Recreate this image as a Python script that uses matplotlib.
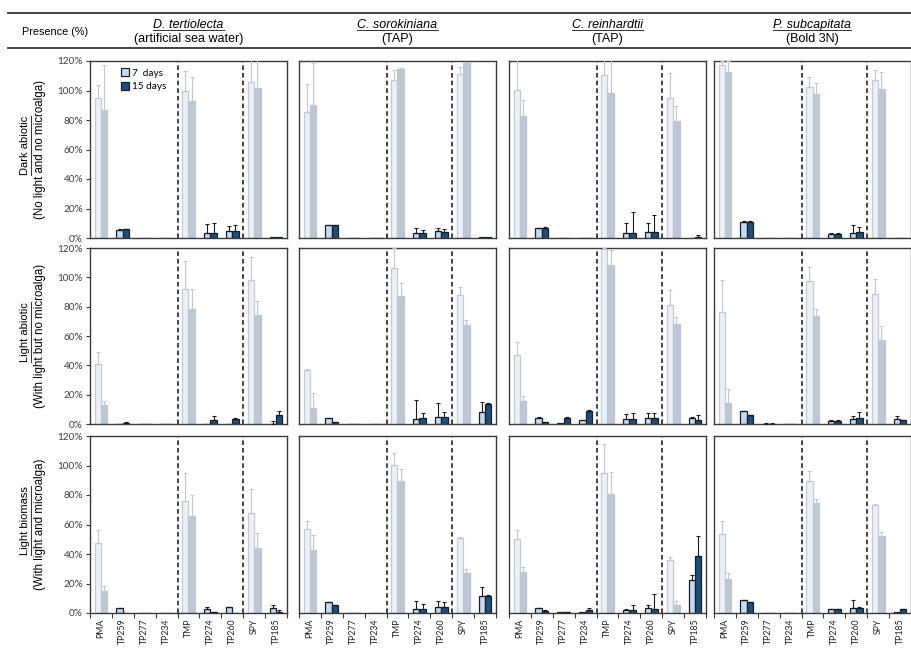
import matplotlib
matplotlib.use("Agg")
import matplotlib.pyplot as plt
from matplotlib.patches import Patch
from matplotlib.lines import Line2D
import numpy as np

# categories / panels
compounds = ["PMA", "TP259", "TP277", "TP234", "TMP", "TP274", "TP260", "SPY", "TP185"]
parents = ["PMA", "TMP", "SPY"]
algae = ["D. tertiolecta", "C. sorokiniana", "C. reinhardtii", "P. subcapitata"]
media = ["(artificial sea water)", "(TAP)", "(TAP)", "(Bold 3N)"]
conditions = ["Dark abiotic", "Light abiotic", "Light biomass"]
cond_notes = ["(No light and no microalga)", "(With light but no microalga)",
              "(With light and microalga)"]
yticks = [0, 20, 40, 60, 80, 100, 120]

# presence (%) per alga, 7 and 15 days, with upper error
dark_7d = [[95, 5.7, 0.2, 0, 100, 3.6, 4.8, 106, 0.4],
           [85.5, 8.6, 0.3, 0, 107, 3.6, 4.5, 111.5, 0.6],
           [100.5, 6.6, 0.2, 0, 110.5, 3.4, 4.0, 94.7, 0.3],
           [117.5, 10.9, 0, 0, 102.5, 2.9, 3.4, 107, 0.3]]
dark_7d_err = [[9, 0.5, 0, 0, 13, 5.7, 3.2, 20, 0],
               [19, 0.4, 0, 0, 7, 3.2, 2.3, 4.5, 0],
               [20, 0.3, 0, 0, 15, 6.6, 6, 17, 0],
               [2.5, 0.3, 0, 0, 6.8, 0.3, 5.2, 7, 0]]
dark_15d = [[87, 5.8, 0.2, 0, 93, 3.6, 4.8, 102, 0.5],
            [90.5, 8.6, 0, 0, 114.5, 3.4, 4.3, 118.5, 0.6],
            [82.7, 7.0, 0, 0, 98, 3.4, 4.3, 79, 0.5],
            [112.7, 10.9, 0, 0, 97.6, 2.9, 4.1, 100.7, 0.3]]
dark_15d_err = [[30, 0.5, 0, 0, 16, 6.4, 3.8, 25, 0],
                [28, 0.4, 0, 0, 0.8, 1.8, 1.6, 0.8, 0],
                [11, 0.5, 0, 0, 25, 14.5, 11, 10.5, 1.5],
                [7.3, 0.4, 0, 0, 7.2, 0.3, 3.4, 12, 0]]

light_7d = [[40.8, 0.3, 0, 0, 92, 0.3, 0.3, 98, 0.3],
            [36.9, 3.9, 0.3, 0.2, 106.3, 3.6, 5, 88, 8.4],
            [47.1, 4.3, 0.9, 2.7, 120, 3.2, 4.1, 81.3, 3.9],
            [76.5, 8.9, 0.3, 0.2, 97.2, 2.3, 3.2, 88.6, 3.2]]
light_7d_err = [[8.6, 0, 0, 0, 19, 0, 0, 16, 1.5],
                [0.5, 0.3, 0, 0, 14, 12.8, 9, 5.7, 6.9],
                [9.1, 0.2, 0, 0, 5, 3.6, 3.2, 10.2, 0.6],
                [21.9, 0.3, 0.5, 0, 9.8, 0.2, 2.3, 10.4, 2.5]]
light_15d = [[13, 1.0, 0, 0, 78.3, 2.8, 3.4, 74, 6.1],
             [11.2, 1.4, 0, 0, 87.4, 3.9, 5, 67.2, 13.4],
             [15.9, 1.4, 3.9, 9.1, 108.5, 3.4, 4.3, 68, 2.7],
             [14.1, 6.1, 0.3, 0, 73.3, 2.3, 4.3, 57.4, 2.7]]
light_15d_err = [[2.7, 0.3, 0, 0, 13.7, 2.7, 0.7, 10.2, 2.6],
                 [9.8, 0.3, 0, 0, 8.6, 3.4, 3.4, 3.8, 0.6],
                 [3.2, 0.2, 0.6, 0.5, 10.3, 4.3, 3.4, 4.9, 3.4],
                 [9.6, 0.3, 0.5, 0, 5, 0.2, 3.7, 9.1, 0.3]]

biomass_7d = [[47.7, 3.2, 0, 0, 75.9, 2.9, 3.8, 67.6, 3.4],
              [57.2, 7.4, 0.2, 0, 100.2, 2.9, 4.1, 51.1, 11.3],
              [50.2, 3.4, 0.5, 0.9, 94.6, 2.3, 3.2, 36, 22.5],
              [53.4, 8.6, 0.2, 0, 89.4, 2.7, 3.4, 73.2, 0.5]]
biomass_7d_err = [[8.6, 0.3, 0, 0, 19, 0.9, 0.5, 16.4, 2],
                  [5.2, 0.2, 0, 0, 8.4, 5.4, 4.2, 0.7, 6.3],
                  [6.1, 0.2, 0, 0, 19.8, 0.2, 2.4, 2.3, 3.4],
                  [9, 0.3, 0, 0, 7, 0.2, 5.6, 0.7, 0]]
biomass_15d = [[14.6, 0.3, 0, 0, 65.8, 0.5, 0.3, 43.9, 0.7],
               [42.8, 5.2, 0, 0, 89.4, 2.7, 3.8, 27, 11.3],
               [27.7, 1.4, 0.7, 1.8, 80.4, 2.3, 2.9, 5.6, 38.7],
               [23, 7.2, 0, 0, 74.3, 2.7, 3.6, 52.3, 2.7]]
biomass_15d_err = [[3.4, 0, 0, 0, 14.2, 0.3, 0, 10.1, 1.3],
                   [10.1, 0.2, 0, 0, 7.9, 3.4, 3.6, 3, 1.1],
                   [3.4, 0.3, 0.2, 1.6, 15.3, 3.3, 10.1, 2.3, 13.6],
                   [4, 0.3, 0, 0, 3, 0.2, 0.3, 2.9, 0.3]]

rows = [(dark_7d, dark_7d_err, dark_15d, dark_15d_err),
        (light_7d, light_7d_err, light_15d, light_15d_err),
        (biomass_7d, biomass_7d_err, biomass_15d, biomass_15d_err)]

# colours
PAR7_FACE, PAR7_EDGE = "#eaf0f6", "#c3cad3"
PAR15_FACE = "#bcc7d3"
TP7_FACE, TP15_FACE, TP_EDGE = "#c6d9ef", "#1f4e79", "#15202e"
PAR_ERR, TP_ERR = "#c4c8cc", "#1a1a1a"

W, H = 912, 652
fig = plt.figure(figsize=(W / 100, H / 100), dpi=100)
plt.rcParams["font.family"] = ["Liberation Sans", "DejaVu Sans"]
TICK_FONT = ["Lato", "DejaVu Sans"]

col_left = [90, 299, 509, 714]
col_w = 197
row_top = [61, 248, 436]
row_bot = [238, 424, 613]


def px_axes(l, t, w, h):
    return fig.add_axes([l / W, 1 - (t + h) / H, w / W, h / H])


x = np.arange(len(compounds))
bw = 0.29
is_par = np.array([c in parents for c in compounds])
under_texts = []

for r, (v7s, e7s, v15s, e15s) in enumerate(rows):
    for c in range(4):
        ax = px_axes(col_left[c], row_top[r], col_w, row_bot[r] - row_top[r])
        v7, e7 = np.array(v7s[c]), np.array(e7s[c])
        v15, e15 = np.array(v15s[c]), np.array(e15s[c])

        face7 = [PAR7_FACE if p else TP7_FACE for p in is_par]
        edge7 = [PAR7_EDGE if p else TP_EDGE for p in is_par]
        face15 = [PAR15_FACE if p else TP15_FACE for p in is_par]
        edge15 = [PAR15_FACE if p else TP_EDGE for p in is_par]
        ax.bar(x - bw / 2, v7, bw, color=face7, edgecolor=edge7, linewidth=0.9, zorder=2)
        ax.bar(x + bw / 2, v15, bw, color=face15, edgecolor=edge15, linewidth=0.9, zorder=2)

        for xs, vals, errs in ((x - bw / 2, v7, e7), (x + bw / 2, v15, e15)):
            for mask, col in ((is_par, PAR_ERR), (~is_par, TP_ERR)):
                m = mask & (errs > 0)
                if m.any():
                    ax.errorbar(xs[m], vals[m], yerr=[np.zeros(m.sum()), errs[m]],
                                fmt="none", ecolor=col, elinewidth=0.8, capsize=1.3,
                                capthick=0.8, zorder=3)

        for xd in (3.5, 6.5):
            ax.axvline(xd, color="#111111", lw=1.1, ls=(0, (3, 2)), zorder=1)

        ax.set_xlim(-0.5, 8.5)
        ax.set_ylim(0, 120)
        for s in ax.spines.values():
            s.set_color("#3a3a3a")
            s.set_linewidth(1.0)

        ax.set_yticks(yticks)
        if c == 0:
            ax.set_yticklabels([f"{t}%" for t in yticks], fontsize=7.2, family=TICK_FONT,
                               color="#404040")
            ax.tick_params(axis="y", length=3, width=0.8, color="#3a3a3a", pad=2)
        else:
            ax.tick_params(axis="y", length=0, labelleft=False)

        ax.set_xticks(x)
        ax.set_xticks(np.arange(-0.5, 9, 1), minor=True)
        if r == 2:
            ax.set_xticklabels(compounds, rotation=90, fontsize=6.3, family=TICK_FONT,
                               color="#202020")
            ax.tick_params(axis="x", which="major", length=0, pad=4)
            ax.tick_params(axis="x", which="minor", length=3.5, width=0.8, color="#3a3a3a")
        else:
            ax.tick_params(axis="x", which="both", length=0, labelbottom=False)

        if r == 0 and c == 0:
            handles = [Patch(facecolor=TP7_FACE, edgecolor=TP_EDGE, lw=0.9),
                       Patch(facecolor=TP15_FACE, edgecolor=TP_EDGE, lw=0.9)]
            ax.legend(handles, ["7  days", "15 days"], loc="upper left",
                      bbox_to_anchor=(0.11, 1.01), frameon=False, handlelength=0.8,
                      handleheight=0.8, handletextpad=0.3, labelspacing=0.45,
                      prop={"family": TICK_FONT, "size": 7.2})

# header
for yy in (13, 48):
    fig.add_artist(Line2D([8 / W, 1], [1 - yy / H] * 2, color="#333333", lw=1.3))
fig.text(55 / W, 1 - 32 / H, "Presence (%)", ha="center", va="center", fontsize=7.8)
for c in range(4):
    cx = (col_left[c] + col_w / 2) / W
    t = fig.text(cx, 1 - 25 / H, algae[c], ha="center", va="center", fontsize=9,
                 style="italic")
    under_texts.append(t)
    fig.text(cx, 1 - 39 / H, media[c], ha="center", va="center", fontsize=9)

for r in range(3):
    cy = 1 - (row_top[r] + row_bot[r]) / 2 / H
    t = fig.text(25 / W, cy + 4 / H, conditions[r], ha="center", va="center",
                 fontsize=8, rotation=90)
    under_texts.append(t)
    fig.text(40 / W, cy, cond_notes[r], ha="center", va="center", fontsize=8.3,
             rotation=90)

# underline titles
fig.canvas.draw()
renderer = fig.canvas.get_renderer()
for t in under_texts:
    bb = t.get_window_extent(renderer).transformed(fig.transFigure.inverted())
    if t.get_rotation() == 90:
        xl = bb.x1 + 1 / W
        fig.add_artist(Line2D([xl, xl], [bb.y0, bb.y1], color="#333333", lw=0.7))
    else:
        yl = bb.y0 + 0.5 / H
        fig.add_artist(Line2D([bb.x0, bb.x1], [yl, yl], color="#333333", lw=0.7))

fig.savefig("out.png", dpi=100)
